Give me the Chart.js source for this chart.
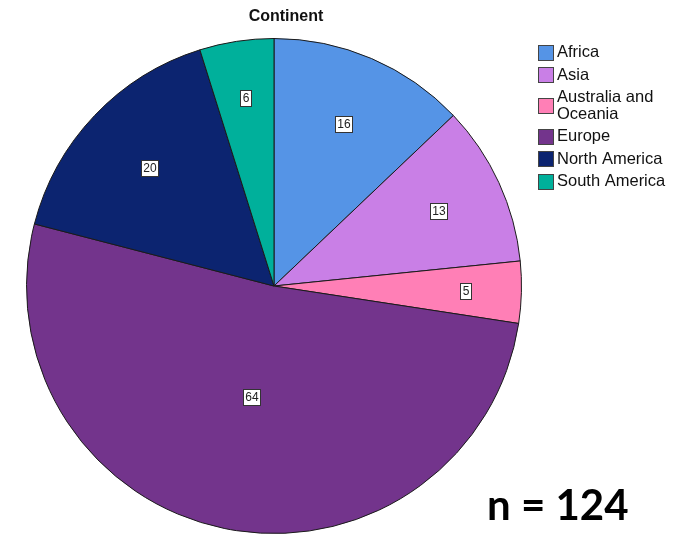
<!DOCTYPE html>
<html>
<head>
<meta charset="utf-8">
<script src="https://cdn.jsdelivr.net/npm/chart.js@4/dist/chart.umd.min.js"></script>
<style>
    body { margin: 0; background: #fff; }
    #wrap { width: 690px; height: 537px; position: relative; overflow: hidden; }
</style>
</head>
<body>
<div id="wrap"><canvas id="pie" width="690" height="537"></canvas></div>
<script>
// chart data
const continents = ['Africa', 'Asia', 'Australia and Oceania', 'Europe', 'North America', 'South America'];
const legendLines = [['Africa'], ['Asia'], ['Australia and', 'Oceania'], ['Europe'], ['North America'], ['South America']];
const counts = [16, 13, 5, 64, 20, 6];
const sliceColors = ['#5594e6', '#c97fe6', '#ff7fb6', '#73348c', '#0c2470', '#00b09b'];
const chartTitle = 'Continent';
const footNote = 'n = 124';

// draws title, legend, value boxes and n label
const extras = {
    id: 'extras',
    afterDatasetsDraw(chart) {
        const ctx = chart.ctx;
        const meta = chart.getDatasetMeta(0);

        // value boxes: small slices get pushed further out
        ctx.save();
        ctx.font = '12px "Liberation Sans", Arial, sans-serif';
        ctx.textAlign = 'center';
        ctx.textBaseline = 'middle';
        meta.data.forEach((arc, i) => {
            const half = (arc.endAngle - arc.startAngle) / 2;
            const mid = arc.startAngle + half;
            const d = arc.outerRadius * (0.8 - 0.212 * half);
            const x = arc.x + d * Math.cos(mid);
            const y = arc.y + d * Math.sin(mid);
            const txt = String(counts[i]);
            const w = Math.round(ctx.measureText(txt).width + 4);
            const h = 16;
            const bx = Math.round(x - w / 2) + 0.5;
            const by = Math.round(y - h / 2) + 0.5;
            ctx.fillStyle = '#fff';
            ctx.fillRect(bx, by, w, h);
            ctx.strokeStyle = '#333';
            ctx.lineWidth = 1;
            ctx.strokeRect(bx, by, w, h);
            ctx.fillStyle = '#222';
            ctx.fillText(txt, bx + w / 2, by + h / 2 + 0.5);
        });
        ctx.restore();

        // title
        ctx.save();
        ctx.font = 'bold 16px "Liberation Sans", Arial, sans-serif';
        ctx.fillStyle = '#111';
        ctx.textAlign = 'center';
        ctx.textBaseline = 'middle';
        ctx.fillText(chartTitle, meta.data[0].x + 12, 17);
        ctx.restore();

        // legend
        ctx.save();
        ctx.font = '16.5px "Liberation Sans", Arial, sans-serif';
        ctx.textBaseline = 'middle';
        let y = 52.5;
        legendLines.forEach((lines, i) => {
            const two = lines.length > 1;
            const boxY = two ? y + 8 : y;
            ctx.fillStyle = sliceColors[i];
            ctx.fillRect(538.5, Math.round(boxY) - 7.5, 15, 15);
            ctx.strokeStyle = '#444';
            ctx.lineWidth = 1;
            ctx.strokeRect(538.5, Math.round(boxY) - 7.5, 15, 15);
            ctx.fillStyle = '#111';
            lines.forEach((ln, j) => ctx.fillText(ln, 557, y + j * 17));
            y += two ? 39 : 22.5;
        });
        ctx.restore();

        // n label
        ctx.save();
        ctx.font = 'bold 42px Lato, "Open Sans", sans-serif';
        ctx.fillStyle = '#000';
        ctx.textBaseline = 'alphabetic';
        ctx.fillText(footNote, 487, 520);
        ctx.restore();
    }
};

new Chart(document.getElementById('pie'), {
    type: 'pie',
    data: {
        labels: continents,
        datasets: [{
            data: counts,
            backgroundColor: sliceColors,
            borderColor: '#1a1a1a',
            borderWidth: 1
        }]
    },
    options: {
        responsive: false,
        animation: false,
        devicePixelRatio: 1,
        layout: { padding: { left: 26, right: 168, top: 38, bottom: 3 } },
        plugins: {
            legend: { display: false },
            title: { display: false },
            tooltip: { enabled: false }
        }
    },
    plugins: [extras]
});
</script>
</body>
</html>
